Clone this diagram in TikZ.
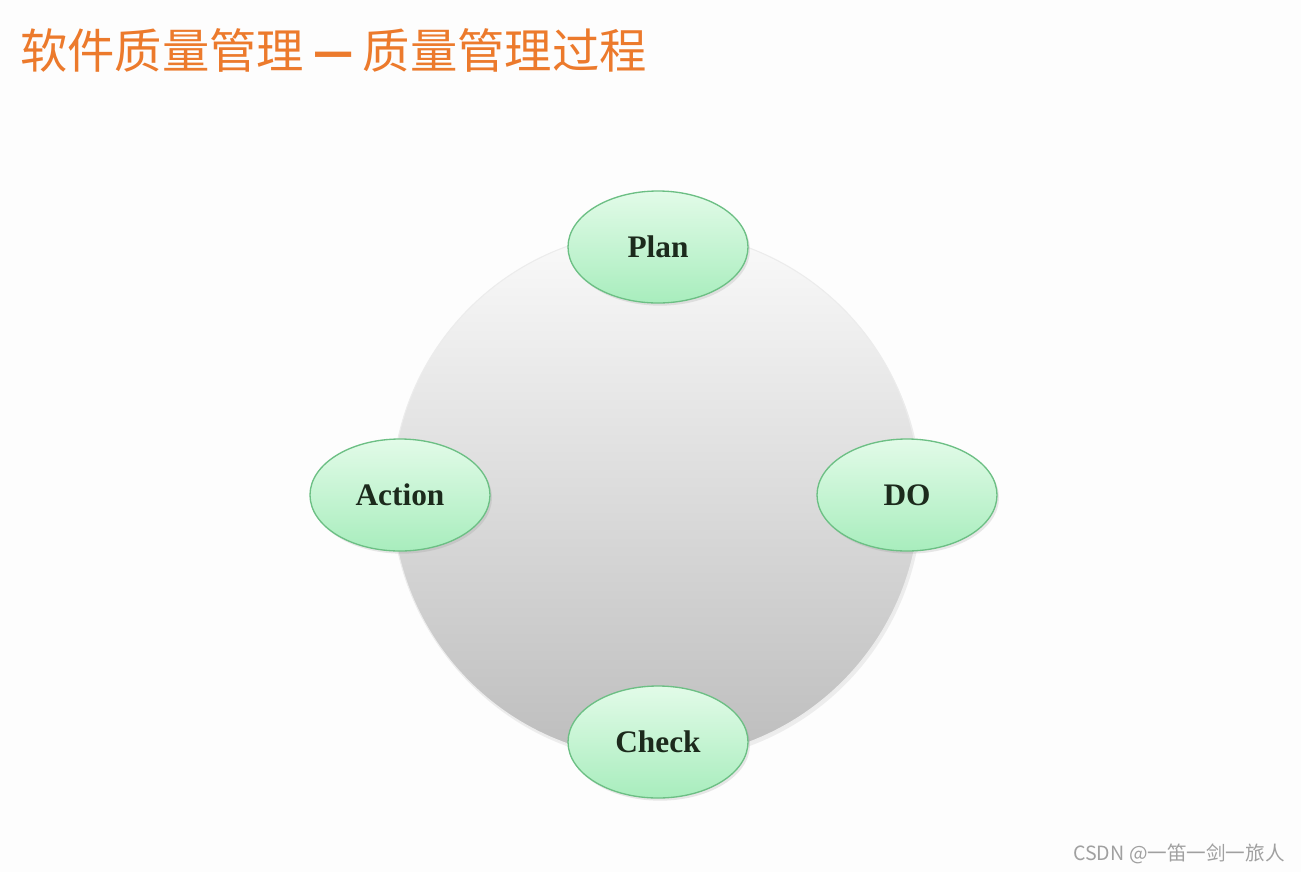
\documentclass[tikz,border=0pt]{standalone}
\usepackage{fontspec}
\usepackage{graphicx}
\setmainfont{Liberation Serif}
\newfontfamily\cjk{Noto Sans CJK SC}
\usetikzlibrary{shapes.geometric,shadows}
\definecolor{bg}{HTML}{FDFDFD}
\definecolor{titleorange}{HTML}{EC7A2C}
\definecolor{ellborder}{HTML}{6CBF84}
\definecolor{elltop}{HTML}{E2FBE8}
\definecolor{ellbot}{HTML}{A8EDBD}
\definecolor{labeltext}{HTML}{1C2A1C}
\definecolor{circtop}{HTML}{FAFAFA}
\definecolor{circbot}{HTML}{BDBDBD}
\definecolor{wmgray}{HTML}{A0A0A0}
\tikzset{
  phase/.style={ellipse, draw=ellborder, line width=1pt,
    top color=elltop, bottom color=ellbot,
    minimum width=135pt, minimum height=84pt, inner sep=0pt,
    font=\fontsize{23.5}{26}\selectfont\bfseries, text=labeltext,
    drop shadow={opacity=0.18, shadow xshift=1.5pt, shadow yshift=-2pt}},
  hub/.style={circle, draw=white!85!gray, line width=0.8pt,
    top color=circtop, bottom color=circbot, minimum size=396pt, inner sep=0pt,
    drop shadow={opacity=0.12, shadow xshift=1.5pt, shadow yshift=-2.5pt}},
}
\begin{document}
\begin{tikzpicture}[x=0.75pt,y=-0.75pt]
\useasboundingbox (0,0) rectangle (1301,872);
\fill[bg] (0,0) rectangle (1301,872);
\node[anchor=west, text=titleorange, inner sep=0pt, font=\cjk\fontsize{35.5}{40}\selectfont] (title) at (20,50) {软件质量管理\makebox[44pt]{\scalebox{1.7}[1]{\bfseries –}}质量管理过程};
\node[hub] (hub) at (656,495) {};
\node[phase] (plan) at (658,247) {Plan};
\node[phase] (do) at (907,495) {DO};
\node[phase] (check) at (658,742) {Check};
\node[phase] (action) at (400,495) {Action};
\node[anchor=east, text=wmgray, inner sep=0pt, font=\cjk\fontsize{14.7}{17}\selectfont] (wm) at (1285,854) {CSDN @一笛一剑一旅人};
\end{tikzpicture}
\end{document}
